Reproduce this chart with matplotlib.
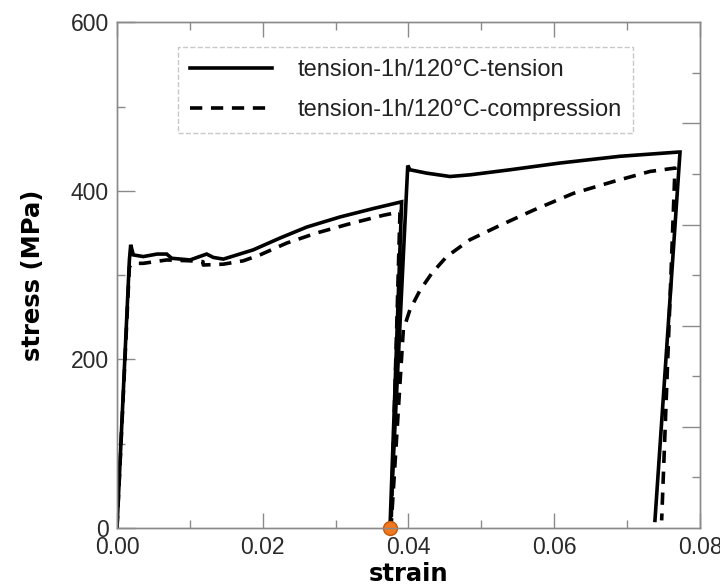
import matplotlib
matplotlib.use("Agg")
import matplotlib.pyplot as plt
from matplotlib.ticker import MultipleLocator, FixedLocator

# tension-1h/120C-tension (solid): load, unload, reload, unload
tension_strain = [0.0, 0.0017, 0.00188, 0.00224, 0.00361, 0.0055, 0.00682, 0.0075, 0.01002,
                  0.0123, 0.01322, 0.01459, 0.0187, 0.02237, 0.02603, 0.0306, 0.03517, 0.03906,
                  0.03746, 0.03990, 0.0402, 0.0425, 0.0457, 0.04844, 0.05393, 0.06079,
                  0.06902, 0.07702, 0.07726, 0.07382]
tension_stress = [0, 318, 336, 324, 322, 325, 325, 320, 318,
                  325, 321, 319, 330, 344, 357, 369, 379, 387,
                  0, 430, 425, 421, 417, 419, 425, 433,
                  441, 446, 446, 9]

# tension-1h/120C-compression (dashed)
compression_strain = [0.0, 0.0017, 0.00224, 0.00361, 0.00682, 0.01002, 0.0118, 0.01184,
                      0.01459, 0.01733, 0.01962, 0.02328, 0.0274, 0.03197, 0.03654, 0.03883,
                      0.03760, 0.03929, 0.0402, 0.04158, 0.04318, 0.04524, 0.04844, 0.05256,
                      0.05713, 0.06262, 0.0681, 0.07314, 0.07657, 0.07474]
compression_stress = [0, 310, 314, 314, 318, 317, 316, 312,
                      313, 317, 324, 338, 350, 361, 371, 375,
                      0, 235, 259, 282, 302, 322, 342, 359,
                      377, 397, 411, 423, 427, 9]

marker_point = (0.0375, 0)

x_ticks = [0.00, 0.02, 0.04, 0.06, 0.08]
y_ticks = [0, 200, 400, 600]

grey = "#8a8a8a"
plt.rcParams["font.family"] = ["Liberation Sans", "DejaVu Sans"]

fig = plt.figure(figsize=(7.2, 5.86), dpi=100, facecolor="white")
ax = fig.add_axes([0.1625, 0.099, 0.8097, 0.863])

ax.plot(tension_strain, tension_stress, color="black", lw=2.6,
        label="tension-1h/120°C-tension", solid_joinstyle="miter")
ax.plot(compression_strain, compression_stress, color="black", lw=2.6,
        dashes=(3.4, 2.4), label="tension-1h/120°C-compression")
ax.plot([marker_point[0]], [marker_point[1]], "o", ms=10, color="#f07820",
        mec="#c05a10", mew=1, clip_on=False, zorder=5)

ax.set_xlim(0, 0.08)
ax.set_ylim(0, 600)
ax.set_xticks(x_ticks)
ax.set_xticklabels([f"{v:.2f}" for v in x_ticks])
ax.set_yticks(y_ticks)
ax.xaxis.set_minor_locator(MultipleLocator(0.01))
ax.yaxis.set_minor_locator(MultipleLocator(100))
ax.tick_params(which="both", direction="in", colors=grey, labelcolor="#2a2a2a",
               labelsize=16.5, top=True, right=False)
ax.tick_params(axis="x", which="major", length=11, width=1, pad=6)
ax.tick_params(axis="x", which="minor", length=5.5, width=1)
ax.tick_params(axis="y", which="major", length=13, width=1, pad=6)
ax.tick_params(axis="y", which="minor", length=6, width=1)
for sp in ax.spines.values():
    sp.set_color(grey)
    sp.set_linewidth(1)

# right side carries its own tick spacing
ax2 = ax.twinx()
ax2.set_ylim(0, 600)
ax2.yaxis.set_major_locator(FixedLocator([120, 240, 360, 480]))
ax2.yaxis.set_minor_locator(FixedLocator([60, 180, 300, 420, 540]))
ax2.tick_params(which="both", direction="in", colors=grey, labelright=False)
ax2.tick_params(which="major", length=13, width=1)
ax2.tick_params(which="minor", length=6, width=1)
for sp in ax2.spines.values():
    sp.set_color(grey)
    sp.set_linewidth(1)

ax.set_xlabel("strain", fontsize=17.5, fontweight="bold", family="DejaVu Sans", labelpad=2)
ax.set_ylabel("stress (MPa)", fontsize=17.5, fontweight="bold", family="DejaVu Sans", labelpad=18)

leg = ax.legend(loc="upper left", bbox_to_anchor=(0.1046, 0.9506), fontsize=17,
                handlelength=3.5, handletextpad=1.05, labelspacing=0.75, borderpad=0.5,
                borderaxespad=0, fancybox=False, framealpha=1)
frame = leg.get_frame()
frame.set_edgecolor("#c8c8c8")
frame.set_linestyle("--")
frame.set_linewidth(1)
for t in leg.get_texts():
    t.set_color("#222222")

fig.savefig("out.png", dpi=100, facecolor="white")
